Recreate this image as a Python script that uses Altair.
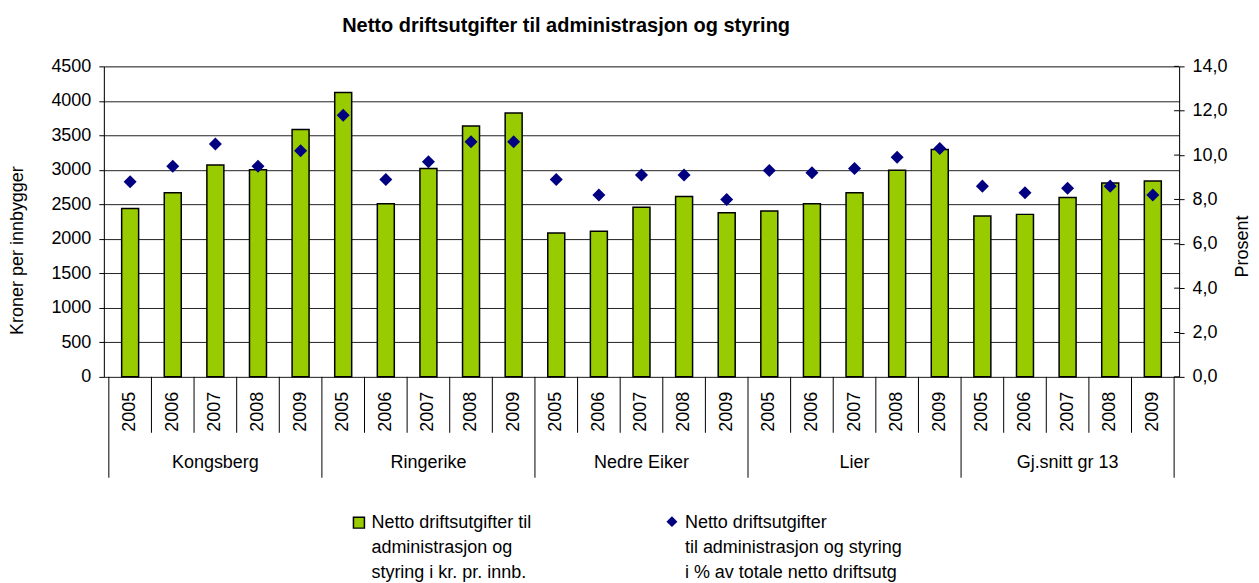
import altair as alt
import pandas as pd

groups = ["Kongsberg", "Ringerike", "Nedre Eiker", "Lier", "Gj.snitt gr 13"]
years = ["2005", "2006", "2007", "2008", "2009"]

kr_kongsberg = [2440, 2670, 3070, 3000, 3585]
kr_ringerike = [4120, 2510, 3020, 3635, 3825]
kr_nedre_eiker = [2085, 2110, 2460, 2615, 2380]
kr_lier = [2405, 2510, 2670, 2995, 3295]
kr_gjsnitt = [2330, 2355, 2600, 2810, 2840]

pct_kongsberg = [8.8, 9.5, 10.5, 9.5, 10.2]
pct_ringerike = [11.8, 8.9, 9.7, 10.6, 10.6]
pct_nedre_eiker = [8.9, 8.2, 9.1, 9.1, 8.0]
pct_lier = [9.3, 9.2, 9.4, 9.9, 10.3]
pct_gjsnitt = [8.6, 8.3, 8.5, 8.6, 8.2]

pct_ticks = [0, 2, 4, 6, 8, 10, 12, 14]
kr_ticks = [0, 500, 1000, 1500, 2000, 2500, 3000, 3500, 4000, 4500]

title_text = "Netto driftsutgifter til administrasjon og styring"
left_title = "Kroner per innbygger"
right_title = "Prosent"
legend_bar = ["Netto driftsutgifter til", "administrasjon og", "styring i kr. pr. innb."]
legend_pt = ["Netto driftsutgifter", "til administrasjon og styring", "i % av totale netto driftsutg"]

kr_all = [kr_kongsberg, kr_ringerike, kr_nedre_eiker, kr_lier, kr_gjsnitt]
pct_all = [pct_kongsberg, pct_ringerike, pct_nedre_eiker, pct_lier, pct_gjsnitt]

rows = []
for gi, g in enumerate(groups):
    for yi, y in enumerate(years):
        rows.append({"idx": gi * 5 + yi, "group": g, "year": y,
                     "kr": kr_all[gi][yi], "pct": pct_all[gi][yi]})
df = pd.DataFrame(rows)

year_seps = pd.DataFrame({"pos": [gi * 5 + yi + 0.5 for gi in range(5) for yi in range(4)]})
group_seps = pd.DataFrame({"pos": [gi * 5 - 0.5 for gi in range(6)]})
group_lab = pd.DataFrame({"group": groups, "pos": [gi * 5 + 2 for gi in range(5)]})
pct_tick_df = pd.DataFrame({"v": pct_ticks})

FONT = "Liberation Sans"
W, H = 1077, 311

xscale = alt.Scale(domain=[-0.5, 24.5], nice=False, zero=False)
X = alt.X("idx:Q", scale=xscale, axis=None)
pscale = alt.Scale(domain=[0, 14], nice=False)

bars = alt.Chart(df).mark_bar(size=17, color="#99CC00", stroke="black", strokeWidth=1.5).encode(
    x=X,
    y=alt.Y("kr:Q", scale=alt.Scale(domain=[0, 4500], nice=False),
            axis=alt.Axis(values=kr_ticks, title=left_title, format="d",
                          grid=True, gridColor="#222222", gridWidth=1,
                          domainColor="black", tickColor="black", tickSize=5,
                          labelPadding=8, labelFontSize=18, labelFont=FONT, labelColor="black",
                          titleFont=FONT, titleFontSize=18, titleFontWeight="normal", titleColor="black",
                          titleAngle=270, titleAlign="center", titleBaseline="middle",
                          titleX=-86, titleY=184)),
)

points = alt.Chart(df).mark_point(shape="diamond", filled=True, size=170, color="#000080", opacity=1).encode(
    x=X,
    y=alt.Y("pct:Q", scale=pscale,
            axis=alt.Axis(orient="right", values=pct_ticks, title=right_title,
                          labelExpr="replace(format(datum.value, '.1f'), '.', ',')",
                          grid=False, domainColor="black", tickColor="black", tickSize=5,
                          labelPadding=8, labelFontSize=18, labelFont=FONT, labelColor="black",
                          titleFont=FONT, titleFontSize=18, titleFontWeight="normal", titleColor="black",
                          titleAngle=270, titleAlign="center", titleBaseline="middle",
                          titleX=63, titleY=180)),
)

inner_ticks = alt.Chart(pct_tick_df).mark_rule(color="black", strokeWidth=1).encode(
    x=alt.value(W - 5), x2=alt.value(W),
    y=alt.Y("v:Q", scale=pscale, axis=None))

year_text = alt.Chart(df).mark_text(angle=270, align="right", baseline="middle",
                                    font=FONT, fontSize=18, color="black").encode(
    x=X, y=alt.value(H + 15), text="year:N")

ysep = alt.Chart(year_seps).mark_rule(color="black", strokeWidth=1).encode(
    x=alt.X("pos:Q", scale=xscale, axis=None), y=alt.value(H), y2=alt.value(H + 56))

gsep = alt.Chart(group_seps).mark_rule(color="black", strokeWidth=1).encode(
    x=alt.X("pos:Q", scale=xscale, axis=None), y=alt.value(H), y2=alt.value(H + 101))

gtext = alt.Chart(group_lab).mark_text(align="center", baseline="alphabetic",
                                       font=FONT, fontSize=18, color="black").encode(
    x=alt.X("pos:Q", scale=xscale, axis=None), y=alt.value(H + 91), text="group:N")

one = alt.Data(values=[{"k": 1}])

title = alt.Chart(one).mark_text(align="center", baseline="alphabetic", font=FONT,
                                 fontSize=20, fontWeight="bold", color="black").encode(
    x=alt.value(463), y=alt.value(-34), text=alt.value(title_text))

leg_sq = alt.Chart(one).mark_square(size=121, color="#99CC00", stroke="black",
                                    strokeWidth=1.5, opacity=1, filled=True).encode(
    x=alt.value(255.5), y=alt.value(457))
leg_sq_text = alt.Chart(one).mark_text(align="left", baseline="alphabetic", font=FONT,
                                       fontSize=18, color="black", lineHeight=25).encode(
    x=alt.value(268), y=alt.value(462), text=alt.value(legend_bar))

leg_dm = alt.Chart(one).mark_point(shape="diamond", filled=True, size=120, color="#000080",
                                   opacity=1).encode(
    x=alt.value(569), y=alt.value(456))
leg_dm_text = alt.Chart(one).mark_text(align="left", baseline="alphabetic", font=FONT,
                                       fontSize=18, color="black", lineHeight=25).encode(
    x=alt.value(582), y=alt.value(462), text=alt.value(legend_pt))

chart = alt.layer(
    bars, points, inner_ticks, year_text, ysep, gsep, gtext, title,
    leg_sq, leg_sq_text, leg_dm, leg_dm_text
).resolve_scale(y="independent").properties(
    width=W, height=H,
    autosize=alt.AutoSizeParams(type="none"),
    padding={"left": 96, "top": 58, "right": 72, "bottom": 206},
).configure_view(stroke="black", strokeWidth=1).configure(background="white")

chart.save("out.html", embed_options={"renderer": "svg", "actions": False})
